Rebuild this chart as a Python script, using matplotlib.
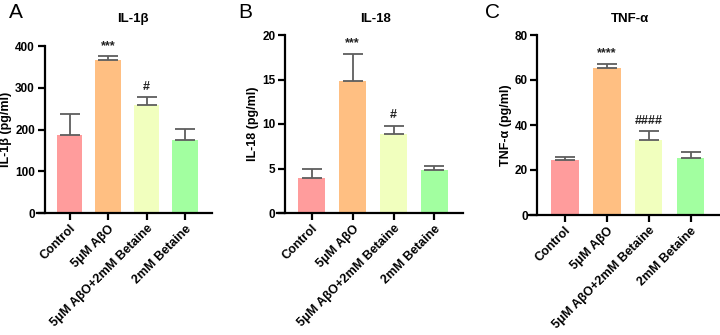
import matplotlib
matplotlib.use("Agg")
import matplotlib.pyplot as plt

plt.rcParams['font.family'] = ['Liberation Sans', 'DejaVu Sans']

groups = ["Control", "5μM AβO", "5μM AβO+2mM Betaine", "2mM Betaine"]
colors = ["#FF9C9C", "#FFBF82", "#F1FFBE", "#A2FFA0"]

il1b_mean = [188, 367, 259, 175]
il1b_err = [49, 8, 19, 27]
il1b_sig = ["", "***", "#", ""]

il18_mean = [3.9, 14.8, 8.9, 4.8]
il18_err = [1.0, 3.1, 0.9, 0.5]
il18_sig = ["", "***", "#", ""]

tnf_mean = [24.5, 65.4, 33.4, 25.2]
tnf_err = [1.5, 1.8, 3.9, 2.8]
tnf_sig = ["", "****", "####", ""]

panels = [
    ("A", "IL-1β", "IL-1β (pg/ml)", il1b_mean, il1b_err, il1b_sig, 400, 100),
    ("B", "IL-18", "IL-18 (pg/ml)", il18_mean, il18_err, il18_sig, 20, 5),
    ("C", "TNF-α", "TNF-α (pg/ml)", tnf_mean, tnf_err, tnf_sig, 80, 20),
]

# axes boxes in figure fractions [left, bottom, width, height]
boxes = [
    [37 / 720, 1 - 213 / 335, (212 - 37) / 720, (213 - 46) / 335],
    [277 / 720, 1 - 213 / 335, (463 - 277) / 720, (213 - 35) / 335],
    [529 / 720, 1 - 215 / 335, (720 - 529) / 720, (215 - 35) / 335],
]
letter_x = [9, 238, 485]

fig = plt.figure(figsize=(7.2, 3.35), dpi=100)

for (letter, title, ylabel, mean, err, sig, ymax, step), box, lx in zip(panels, boxes, letter_x):
    ax = fig.add_axes(box)
    x = list(range(len(groups)))
    ax.bar(x, mean, width=0.66, color=colors, zorder=2)
    ax.errorbar(x, mean, yerr=[[0] * len(err), err], fmt="none",
                ecolor="#5e5e5e", elinewidth=1.3, capsize=7, capthick=1.3, zorder=3)
    for xi, m, e, s in zip(x, mean, err, sig):
        if s:
            ax.text(xi, m + e + ymax * 0.025, s, ha="center", va="bottom",
                    fontsize=9, fontweight="bold", color="#222222")

    ax.set_xlim(-0.85, 3.7)
    ax.set_ylim(0, ymax)
    ax.set_yticks(range(0, ymax + 1, step))
    ax.spines["left"].set_position(("data", -0.65))
    ax.spines["top"].set_visible(False)
    ax.spines["right"].set_visible(False)
    for sp in ("left", "bottom"):
        ax.spines[sp].set_linewidth(1.6)
    ax.tick_params(axis="both", width=1.6, length=5, labelsize=8.5, pad=2)
    ax.set_xticks(x)
    ax.set_xticklabels(groups, rotation=45, ha="right", rotation_mode="anchor",
                       fontsize=9, fontweight="bold")
    for lab in ax.get_yticklabels():
        lab.set_fontweight("bold")
    ax.set_ylabel(ylabel, fontsize=9, fontweight="bold", labelpad=2)
    cx = box[0] + box[2] / 2 + (0.05 if letter == "A" else 0.03) * box[2]
    fig.text(cx, 1 - 19 / 335, title, fontsize=9.5, fontweight="bold",
             ha="center", va="center")
    fig.text(lx / 720, 1 - 13 / 335, letter, fontsize=15, va="center", ha="left")

fig.savefig("out.png", dpi=100)
